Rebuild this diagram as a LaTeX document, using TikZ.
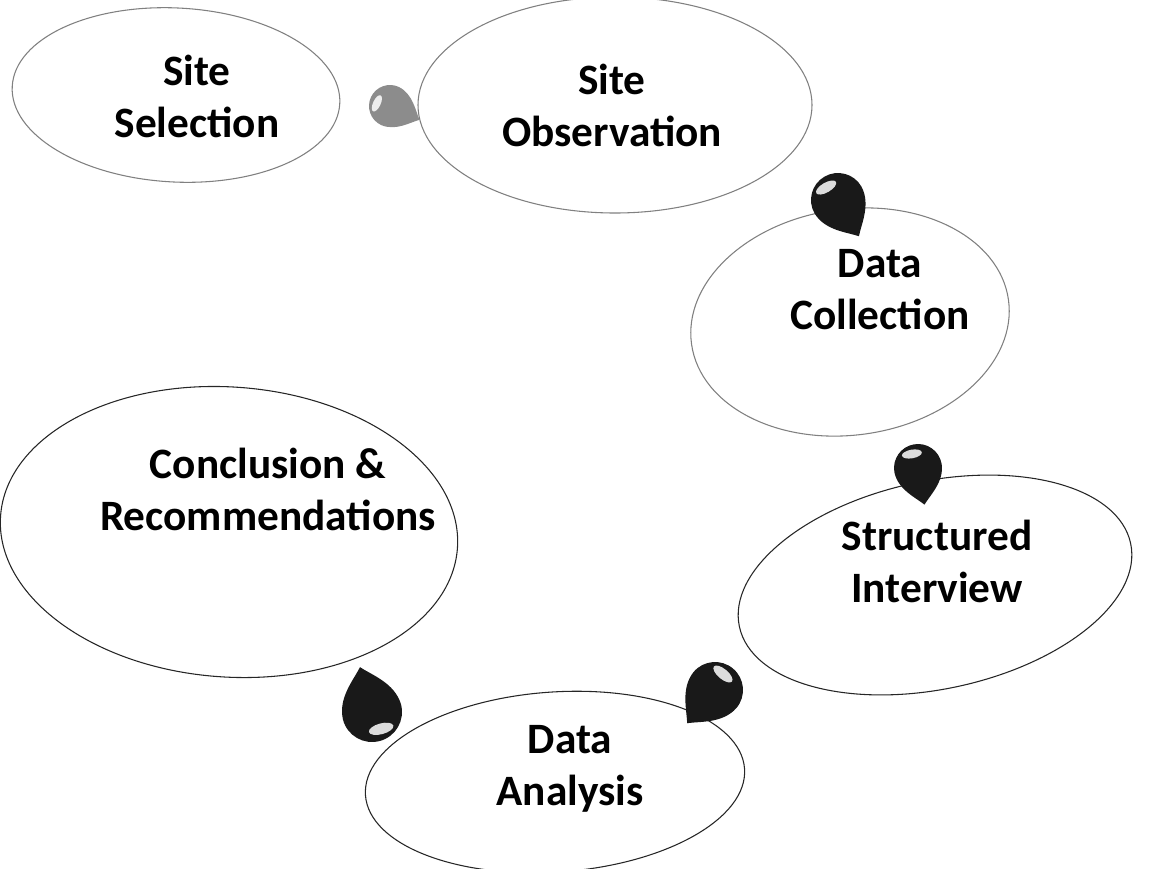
\documentclass[tikz,border=0pt]{standalone}
\usepackage{fontspec}
\setmainfont{Carlito}
\usetikzlibrary{shapes.geometric}
\begin{document}
\begin{tikzpicture}[x=0.75pt,y=-0.75pt]
\tikzset{
  oval/.style 2 args={ellipse, draw=black!85, line width=0.8pt, fill=white, inner sep=0pt,
    minimum width={#1*1.5pt}, minimum height={#2*1.5pt}},
  faint/.style={draw=black!50},
  lbl/.style={font=\fontsize{32.5}{39}\selectfont\bfseries, align=center, text=black, inner sep=0pt},
  dropbody/.style={fill=black!90},
  dropgray/.style={fill=black!45},
  teardrop/.pic={
    \path[pic actions] (1.55,0) .. controls (1.2,0.3) and (0.75,0.98) .. (0,1)
      arc[start angle=90, end angle=270, radius=1]
      .. controls (0.75,-0.98) and (1.2,-0.3) .. (1.55,0) -- cycle;
    \fill[white, opacity=0.85] (-0.62,0.15) ellipse [x radius=0.18, y radius=0.42];
  }
}
\useasboundingbox (0,0) rectangle (1166,868);
% ellipses
\node[oval={164}{87}, faint, rotate=-3] (e1) at (176,95) {};
\node[oval={197}{108}, faint] (e2) at (615,105) {};
\node[oval={160}{113}, faint, rotate=8] (e3) at (850,322) {};
\node[oval={200}{104}, rotate=12] (e4) at (935,585) {};
\node[oval={229}{145}, rotate=-4] (e6) at (229,532) {};
\node[oval={190}{90}, rotate=4] (e5) at (555,782) {};
% labels
\node[lbl] (t1) at (197,96) {Site\\Selection};
\node[lbl] (t2) at (612,105) {Site\\Observation};
\node[lbl] (t3) at (880,290) {Data\\Collection};
\node[lbl] (t4) at (937,561) {Structured\\Interview};
\node[lbl] (t5) at (570,769) {Data\\Analysis};
\node[lbl] (t6) at (268,489) {Conclusion \&\\Recommendations};
% teardrop connectors
\coordinate (d1) at (390,106);
\coordinate (d2) at (838,200);
\coordinate (d3) at (918,468);
\coordinate (d4) at (715,690);
\coordinate (d5) at (372,712);
\pic[dropgray, rotate=-25, scale=21] at (d1) {teardrop};
\pic[dropbody, rotate=-60, scale=27] at (d2) {teardrop};
\pic[dropbody, rotate=-80, scale=24] at (d3) {teardrop};
\pic[dropbody, rotate=-130, scale=28] at (d4) {teardrop};
\pic[dropbody, rotate=-255, scale=30] at (d5) {teardrop};
\end{tikzpicture}
\end{document}
